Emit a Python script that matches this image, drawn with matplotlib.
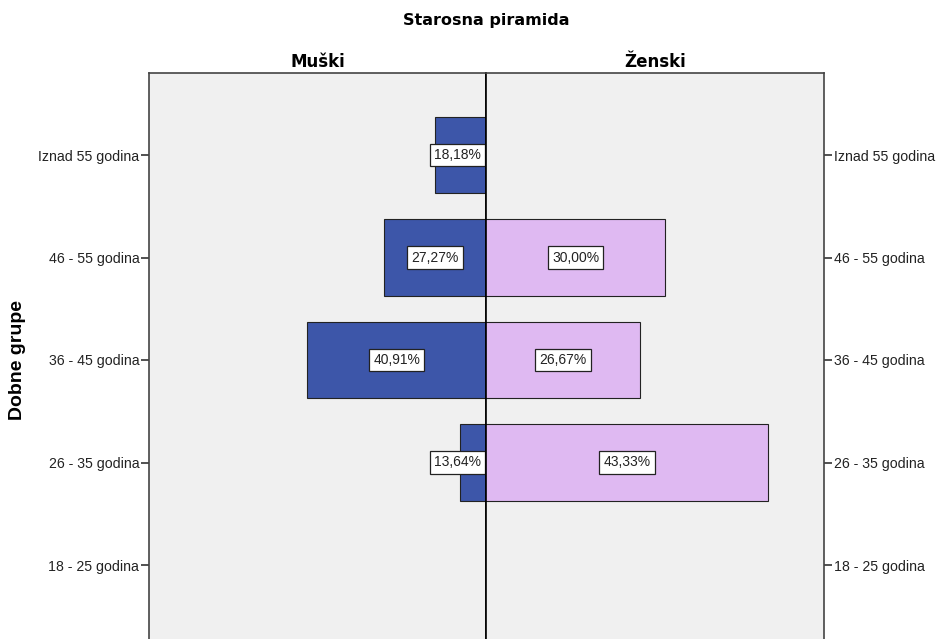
import matplotlib
matplotlib.use("Agg")
import matplotlib.pyplot as plt

groups = ["Iznad 55 godina", "46 - 55 godina", "36 - 45 godina", "26 - 35 godina", "18 - 25 godina"]
male_counts = [4, 6, 9, 3, 0]
female_counts = [0, 9, 8, 13, 0]
male_pct = ["18,18%", "27,27%", "40,91%", "13,64%", ""]
female_pct = ["", "30,00%", "26,67%", "43,33%", ""]
AXIS_MIN, AXIS_MAX = 2.0, 15.2

MALE_COLOR = "#3D56A9"
FEMALE_COLOR = "#DFB9F2"
BG = "#F0F0F0"

plt.rcParams["font.family"] = ["Liberation Sans", "DejaVu Sans"]

fig = plt.figure(figsize=(9.36, 6.39), dpi=100)
W, H = 936, 639
top = 73
bottom = 647
ax_l = fig.add_axes([149 / W, 1 - bottom / H, (486 - 149) / W, (bottom - top) / H])
ax_r = fig.add_axes([486 / W, 1 - bottom / H, (824 - 486) / W, (bottom - top) / H])

ypos = list(range(len(groups)))
box = dict(boxstyle="square,pad=0.3", fc="white", ec="#222222", lw=0.9)

for ax, counts, labels, color in [(ax_l, male_counts, male_pct, MALE_COLOR),
                                  (ax_r, female_counts, female_pct, FEMALE_COLOR)]:
    ax.set_facecolor(BG)
    ax.barh(ypos, counts, height=0.75, color=color, edgecolor="#222222", lw=0.8)
    for y, n, lab in zip(ypos, counts, labels):
        if not lab:
            continue
        # keep the label box inside its own half
        x = max((AXIS_MIN + n) / 2, AXIS_MIN + 1.12)
        ax.text(x, y, lab, ha="center", va="center", fontsize=10, color="#222222", bbox=box)
    ax.set_ylim(len(groups) - 0.2, -0.8)
    ax.set_xticks([])
    ax.set_yticks(ypos)
    ax.set_yticklabels(groups, fontsize=10.2, color="#222222")
    for s in ax.spines.values():
        s.set_color("#444444")
        s.set_linewidth(1.2)

ax_l.set_xlim(AXIS_MAX, AXIS_MIN)
ax_r.set_xlim(AXIS_MIN, AXIS_MAX)
ax_l.spines["right"].set_color("black")
ax_r.spines["left"].set_color("black")
ax_l.tick_params(axis="y", direction="out", length=6, width=1.2, color="#333333", pad=1)
ax_r.tick_params(axis="y", left=False, right=True, labelleft=False, labelright=True,
                 direction="out", length=6, width=1.2, color="#333333", pad=1)

ax_l.set_title("Muški", fontsize=12, fontweight="bold", family="DejaVu Sans", pad=4)
ax_r.set_title("Ženski", fontsize=12, fontweight="bold", family="DejaVu Sans", pad=4)
fig.text(486 / W, 1 - 20 / H, "Starosna piramida", ha="center", va="center",
         fontsize=11.5, fontweight="bold", family="DejaVu Sans")
fig.text(18 / W, 1 - 360 / H, "Dobne grupe", ha="center", va="center", rotation=90,
         fontsize=14, fontweight="bold")

fig.savefig("out.png", dpi=100)
